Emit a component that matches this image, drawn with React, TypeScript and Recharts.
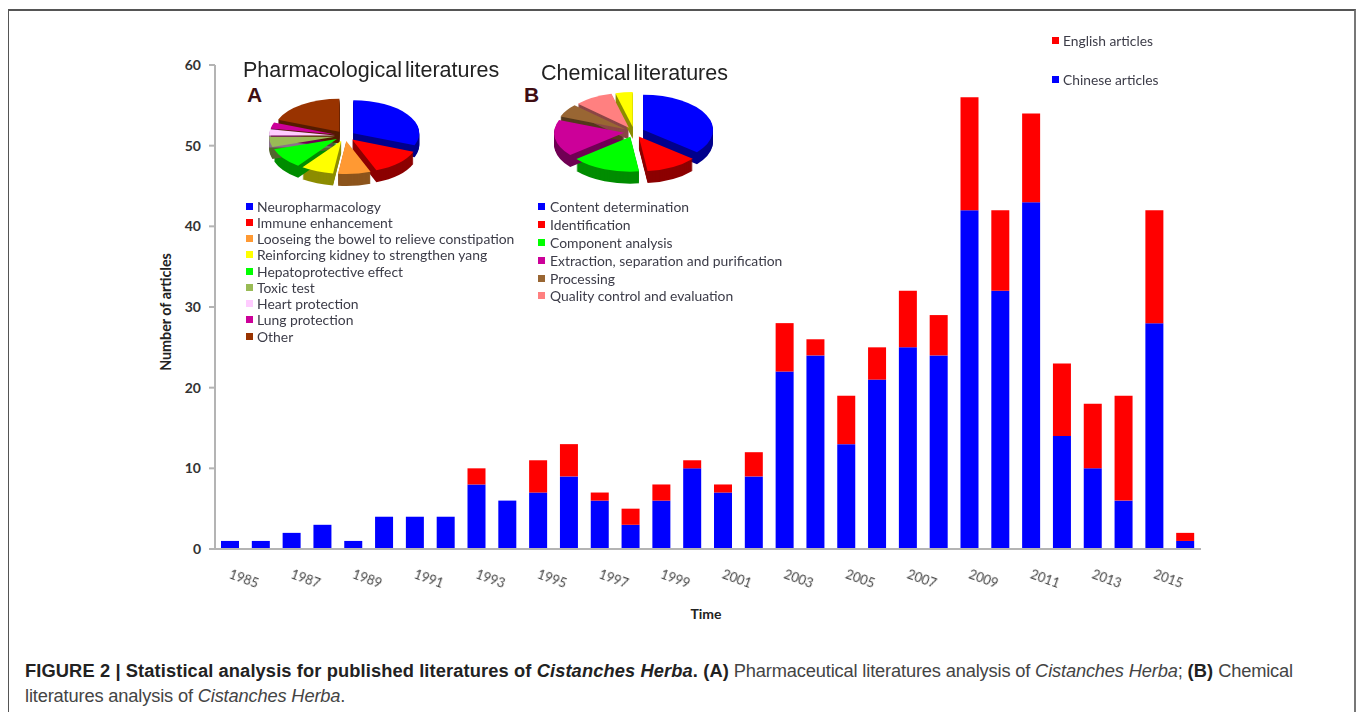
import { Bar, BarChart, Legend, Pie, PieChart, XAxis, YAxis } from 'recharts'

const YEARS = ['1985', '1986', '1987', '1988', '1989', '1990', '1991', '1992', '1993', '1994', '1995', '1996', '1997', '1998', '1999', '2000', '2001', '2002', '2003', '2004', '2005', '2006', '2007', '2008', '2009', '2010', '2011', '2012', '2013', '2014', '2015', '2016']
const CHINESE = [1, 1, 2, 3, 1, 4, 4, 4, 8, 6, 7, 9, 6, 3, 6, 10, 7, 9, 22, 24, 13, 21, 25, 24, 42, 32, 43, 14, 10, 6, 28, 1]
const ENGLISH = [0, 0, 0, 0, 0, 0, 0, 0, 2, 0, 4, 4, 1, 2, 2, 1, 1, 3, 6, 2, 6, 4, 7, 5, 14, 10, 11, 9, 8, 13, 14, 1]
const Y_TICKS = [0, 10, 20, 30, 40, 50, 60]
const BAR_LEGEND_ORDER = ['English articles', 'Chinese articles']

const PHARMA_NAMES = ['Neuropharmacology', 'Immune enhancement', 'Looseing the bowel to relieve constipation', 'Reinforcing kidney to strengthen yang', 'Hepatoprotective effect', 'Toxic test', 'Heart protection', 'Lung protection', 'Other']
const PHARMA_VALUES = [31, 13, 8, 8, 10, 5, 3, 3, 19]
const PHARMA_COLORS = ['#0000ff', '#ff0000', '#ff9933', '#ffff00', '#00ff00', '#99bb55', '#ffccff', '#cc0099', '#993300']

const CHEM_NAMES = ['Content determination', 'Identification', 'Component analysis', 'Extraction, separation and purification', 'Processing', 'Quality control and evaluation', 'Unlisted']
const CHEM_VALUES = [36, 12, 16, 17, 6, 9, 4]
const CHEM_COLORS = ['#0000ff', '#ff0000', '#00ff00', '#cc0099', '#996633', '#ff8080', '#ffff00']
// the yellow slice in panel B has no legend row
const CHEM_LEGEND_HIDDEN = ['Unlisted']

const barData = YEARS.map((year, i) => ({ year, chinese: CHINESE[i], english: ENGLISH[i] }))
const pharmaData = PHARMA_NAMES.map((name, i) => ({ name, value: PHARMA_VALUES[i], fill: PHARMA_COLORS[i] }))
const chemData = CHEM_NAMES.map((name, i) => ({ name, value: CHEM_VALUES[i], fill: CHEM_COLORS[i] }))

const LEGEND_FONT = 'Lato, sans-serif'
const INK = '#3c3c48'
const TILT = 0.5
const DEPTH = 12
const EXPLODE = 10
const SOFT = 'blur(0.4px)'

function shade(hex: string) {
  const n = parseInt(hex.slice(1), 16)
  const f = (v: number) => Math.round(v * 0.55)
  return `rgb(${f((n >> 16) & 255)},${f((n >> 8) & 255)},${f(n & 255)})`
}

// flattened pie slice, pushed out along its middle angle
function slicePath(p: any) {
  const rad = Math.PI / 180
  const mid = ((p.startAngle + p.endAngle) / 2) * rad
  const cx = p.cx + EXPLODE * Math.cos(mid)
  const cy = p.cy - EXPLODE * TILT * Math.sin(mid)
  const rx = p.outerRadius
  const ry = p.outerRadius * TILT
  const x1 = cx + rx * Math.cos(p.startAngle * rad)
  const y1 = cy - ry * Math.sin(p.startAngle * rad)
  const x2 = cx + rx * Math.cos(p.endAngle * rad)
  const y2 = cy - ry * Math.sin(p.endAngle * rad)
  const large = Math.abs(p.endAngle - p.startAngle) > 180 ? 1 : 0
  const sweep = p.endAngle < p.startAngle ? 1 : 0
  return `M${cx},${cy}L${x1},${y1}A${rx},${ry} 0 ${large} ${sweep} ${x2},${y2}Z`
}

function SliceWall(p: any) {
  const d = slicePath(p)
  const layers = []
  for (let i = DEPTH; i > 0; i--) layers.push(i)
  return (
    <g>
      {layers.map((i) => (
        <path key={i} d={d} fill={shade(p.fill)} transform={`translate(0,${i})`} />
      ))}
    </g>
  )
}

function SliceTop(p: any) {
  return <path d={slicePath(p)} fill={p.fill} />
}

function SwatchLegend({ payload, rowHeight, names, gap, fontSize }: any) {
  const rows = names.map((name: string) => (payload || []).find((item: any) => item.value === name)).filter(Boolean)
  return (
    <div style={{ fontFamily: LEGEND_FONT, fontSize, color: INK, whiteSpace: 'nowrap', textAlign: 'left', filter: SOFT }}>
      {rows.map((item: any) => (
        <div key={item.value} style={{ display: 'flex', alignItems: 'center', height: rowHeight }}>
          <span style={{ width: 7, height: 7, background: item.color, marginRight: gap, flex: 'none' }} />
          {item.value}
        </div>
      ))}
    </div>
  )
}

function LiteraturePie({ data, names, left, cx, cy, radius, rowHeight, legendLeft, gap }: any) {
  return (
    <div style={{ position: 'absolute', left, top: 90 }}>
      <PieChart width={310} height={260} margin={{ top: 0, right: 0, bottom: 0, left: 0 }} style={{ filter: SOFT }}>
        <Pie data={data} dataKey="value" nameKey="name" cx={cx} cy={cy} outerRadius={radius} startAngle={90} endAngle={-270} stroke="none" legendType="none" shape={SliceWall} isAnimationActive={false} />
        <Pie data={data} dataKey="value" nameKey="name" cx={cx} cy={cy} outerRadius={radius} startAngle={90} endAngle={-270} stroke="none" legendType="rect" shape={SliceTop} isAnimationActive={false} />
        <Legend layout="vertical" align="left" verticalAlign="top" itemSorter={null} wrapperStyle={{ left: legendLeft, top: 108, width: 1 }} content={(props: any) => <SwatchLegend payload={props.payload} rowHeight={rowHeight} names={names} gap={gap} fontSize={13.9} />} />
      </PieChart>
    </div>
  )
}

function YearTick({ x, y, payload }: any) {
  return (
    <text transform={`translate(${x + 12},${y + 26}) rotate(20)`} textAnchor="middle" fontFamily={LEGEND_FONT} fontSize={13} fill="#444" style={{ filter: SOFT }}>
      {payload.value}
    </text>
  )
}

const heading = { position: 'absolute', fontFamily: '"Liberation Sans", sans-serif', color: '#222', whiteSpace: 'nowrap', filter: SOFT, wordSpacing: -3 } as const
const letter = { position: 'absolute', fontFamily: '"Liberation Sans", sans-serif', fontWeight: 700, fontSize: 21, color: '#3f0d12' } as const
const captionBold = { color: '#222', letterSpacing: 0.11 } as const
const captionLine = { whiteSpace: 'nowrap', height: 25, letterSpacing: -0.17 } as const

export default function App() {
  return (
    <div style={{ position: 'absolute', left: 0, top: 0, width: 1357, height: 712, overflow: 'hidden', background: '#fff' }}>
      <div style={{ position: 'absolute', left: 8, top: 9, width: 1345, height: 720, borderTop: '2px solid #555', borderLeft: '1px solid #555', borderRight: '2px solid #777' }} />

      <div style={{ position: 'absolute', left: 0, top: 0 }}>
        <BarChart width={1357} height={640} data={barData} margin={{ top: 65, right: 156, bottom: 51, left: 150 }} barSize={18}>
          <XAxis dataKey="year" interval={1} tickLine={false} height={40} stroke="#b4b4b4" strokeWidth={2} tick={YearTick} label={{ value: 'Time', position: 'insideBottom', offset: -30, dx: -2, fontFamily: LEGEND_FONT, fontSize: 14, fontWeight: 700, fill: '#222' }} />
          <YAxis width={64} domain={[0, 60]} ticks={Y_TICKS} tickMargin={8} tickLine={{ stroke: '#b4b4b4' }} stroke="#b4b4b4" strokeWidth={2} tick={{ fontFamily: LEGEND_FONT, fontSize: 14, fontWeight: 700, fill: '#333' }} label={{ value: 'Number of articles', angle: -90, position: { x: 20, y: 247 }, style: { textAnchor: 'middle' }, fontFamily: LEGEND_FONT, fontSize: 14.3, fontWeight: 700, fill: '#222' }} />
          <Bar dataKey="chinese" name="Chinese articles" stackId="a" fill="#0000ff" isAnimationActive={false} />
          <Bar dataKey="english" name="English articles" stackId="a" fill="#ff0000" isAnimationActive={false} />
          <Legend layout="vertical" align="left" verticalAlign="top" wrapperStyle={{ left: 1052, top: 21, width: 1 }} content={(props: any) => <SwatchLegend payload={props.payload} rowHeight={39} names={BAR_LEGEND_ORDER} gap={4} fontSize={13.8} />} />
        </BarChart>
      </div>

      <LiteraturePie data={pharmaData} names={PHARMA_NAMES} left={230} cx={114} cy={46} radius={66} rowHeight={16.25} legendLeft={16} gap={4} />
      <LiteraturePie data={chemData} names={CHEM_NAMES.filter((n) => !CHEM_LEGEND_HIDDEN.includes(n))} left={520} cx={113} cy={42} radius={70} rowHeight={17.8} legendLeft={18} gap={5} />

      <div style={{ ...heading, left: 243, top: 58, fontSize: 21.5 }}>Pharmacological literatures</div>
      <div style={{ ...heading, left: 541, top: 61, fontSize: 21.5 }}>Chemical literatures</div>
      <div style={{ ...letter, left: 247, top: 83 }}>A</div>
      <div style={{ ...letter, left: 524, top: 83 }}>B</div>

      <div style={{ position: 'absolute', left: 25, top: 658, fontFamily: '"Liberation Sans", sans-serif', fontSize: 18.3, lineHeight: '25px', color: '#444' }}>
        <div style={captionLine}>
          <b style={captionBold}>FIGURE 2 | Statistical analysis for published literatures of <i>Cistanches Herba</i>. (A)</b> Pharmaceutical literatures analysis of <i>Cistanches Herba</i>; <b style={captionBold}>(B)</b> Chemical
        </div>
        <div style={captionLine}>
          literatures analysis of <i>Cistanches Herba</i>.
        </div>
      </div>
    </div>
  )
}
